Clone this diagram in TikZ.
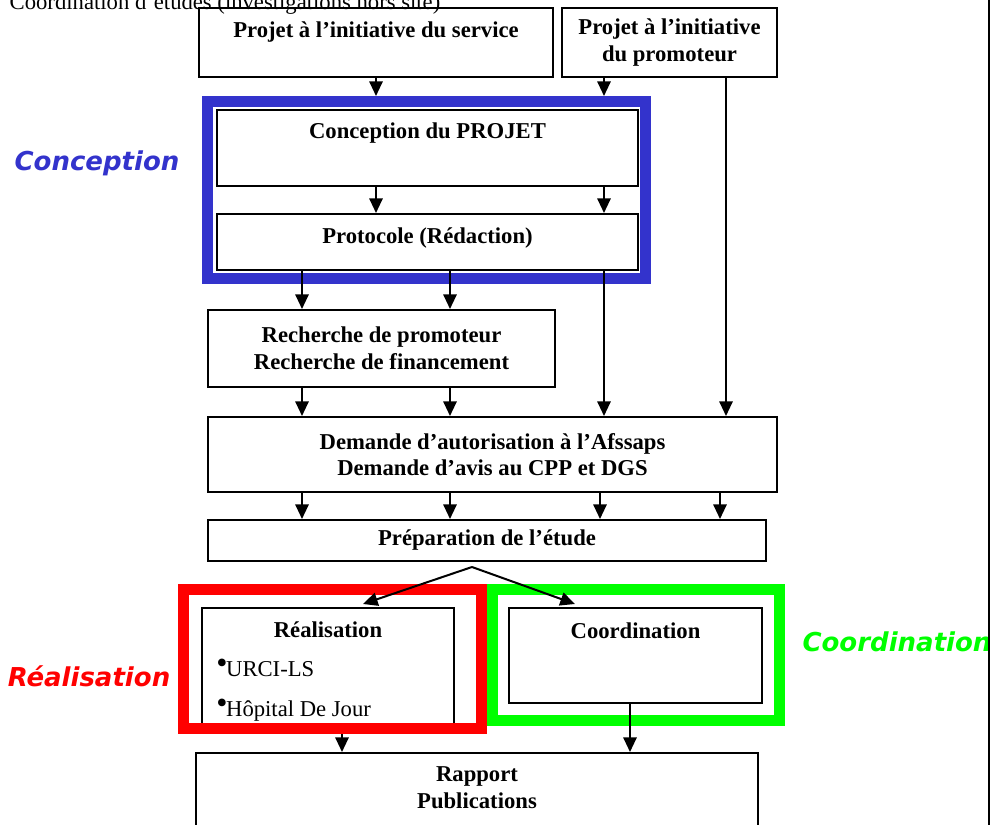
\documentclass[tikz,border=0pt]{standalone}
\usepackage{fontspec}
\setmainfont{Liberation Serif}
\newfontfamily\tagfont{DejaVu Sans}[BoldItalicFont={DejaVu Sans Bold Oblique}]
\usepackage{tikz}
\usetikzlibrary{arrows.meta,positioning}
\definecolor{cblue}{HTML}{3333CC}
\definecolor{cred}{HTML}{FF0000}
\definecolor{cgreen}{HTML}{00FF00}
\newcommand{\bul}{\raisebox{.12em}{\fontsize{24}{24}\selectfont •}\kern-1pt}

\begin{document}
\begin{tikzpicture}[x=0.75pt, y=-0.75pt, every node/.style={font=\fontsize{17}{20}\selectfont},
  box/.style={draw, line width=1.5pt, inner sep=0pt},
  frm/.style={draw=#1, line width=8.25pt, inner sep=0pt},
  txt/.style={font=\fontsize{17}{20}\selectfont\bfseries, align=center},
  tag/.style={font=\tagfont\fontsize{19.5}{22}\selectfont\bfseries\itshape, text=#1},
  arr/.style={-{Triangle[length=11pt,width=10pt]}, line width=1.5pt}]
\useasboundingbox (0,0) rectangle (1008,825);
\node[anchor=base west] (cap) at (5,9) {Coordination d’études (investigations hors site)};
\node[box, minimum width=265.5pt, minimum height=51.75pt] (srv) at (376,42.5) {};
\node[txt, anchor=base] (srvt) at (376,37) {Projet à l’initiative du service};
\node[box, txt, minimum width=161.25pt, minimum height=51.75pt] (prom) at (669.5,42.5) {Projet à l’initiative\\du promoteur};
\node[frm=cblue, minimum width=328.5pt, minimum height=132.75pt] (cfr) at (426.5,190) {};
\node[box, minimum width=315.75pt, minimum height=57pt] (conc) at (427.5,148) {};
\node[txt, anchor=base] (conct) at (427.5,138) {Conception du PROJET};
\node[box, minimum width=315.75pt, minimum height=42pt] (proto) at (427.5,242) {};
\node[txt, anchor=base] (protot) at (427.5,243) {Protocole (Rédaction)};
\node[box, txt, minimum width=260.25pt, minimum height=57.75pt] (rech) at (381.5,348.5) {Recherche de promoteur\\Recherche de financement};
\node[box, txt, minimum width=426.75pt, minimum height=56.25pt] (dem) at (492.5,454.5) {Demande d’autorisation à l’Afssaps\\Demande d’avis au CPP et DGS};
\node[box, txt, minimum width=418.5pt, minimum height=30.75pt] (prep) at (487,540.5) {Préparation de l’étude};
\node[box, minimum width=189pt, minimum height=90.75pt] (real) at (328,668.5) {};
\node[txt, anchor=base] (realt) at (328,637) {Réalisation};
\node[anchor=base west, inner sep=0pt] (urci) at (216,676) {\bul URCI-LS};
\node[anchor=base west, inner sep=0pt] (hdj) at (216,716) {\bul Hôpital De Jour};
\node[box, minimum width=189.75pt, minimum height=71.25pt] (coord) at (635.5,655.5) {};
\node[txt, anchor=base] (coordt) at (635.5,638) {Coordination};
\node[frm=cgreen, minimum width=215.25pt, minimum height=98.25pt] (gfr) at (636,655) {};
\node[frm=cred, minimum width=223.5pt, minimum height=104.25pt] (rfr) at (332.5,659) {};
\node[box, minimum width=421.5pt, minimum height=65.25pt] (rap) at (477,796.5) {};
\node[txt] (rapt) at (477,787.5) {Rapport\\Publications};
\node[tag=cblue] (tconc) at (97,163) {Conception};
\node[tag=cred] (treal) at (89,676) {Réalisation};
\node[tag=cgreen] (tcoord) at (897,642) {Coordination};
\draw[line width=1.5pt] (989,-5) -- (989,830);
% columns of the arrows
\coordinate (xa) at (302,0); \coordinate (xb) at (376,0); \coordinate (xc) at (450,0);
\coordinate (xd) at (604,0); \coordinate (xe) at (726,0); \coordinate (xf) at (600,0);
\coordinate (xg) at (720,0); \coordinate (xh) at (342,0); \coordinate (xi) at (630,0);
\coordinate (fork) at (472,567); \coordinate (fkl) at (363,604); \coordinate (fkr) at (575,604);
\draw[arr] (srv.south -| xb) -- (cfr.north -| xb); \draw[arr] (prom.south -| xd) -- (cfr.north -| xd);
\draw[arr] (conc.south -| xb) -- (proto.north -| xb); \draw[arr] (conc.south -| xd) -- (proto.north -| xd);
\draw[arr] (proto.south -| xa) -- (rech.north -| xa); \draw[arr] (proto.south -| xc) -- (rech.north -| xc);
\draw[arr] (proto.south -| xd) -- (dem.north -| xd); \draw[arr] (prom.south -| xe) -- (dem.north -| xe);
\draw[arr] (rech.south -| xa) -- (dem.north -| xa); \draw[arr] (rech.south -| xc) -- (dem.north -| xc);
\draw[arr] (dem.south -| xa) -- (prep.north -| xa); \draw[arr] (dem.south -| xc) -- (prep.north -| xc);
\draw[arr] (dem.south -| xf) -- (prep.north -| xf); \draw[arr] (dem.south -| xg) -- (prep.north -| xg);
\draw[arr] (fork) -- (fkl); \draw[arr] (fork) -- (fkr);
\draw[arr] (rfr.south -| xh) -- (rap.north -| xh); \draw[arr] (coord.south -| xi) -- (rap.north -| xi);
\end{tikzpicture}
\end{document}
